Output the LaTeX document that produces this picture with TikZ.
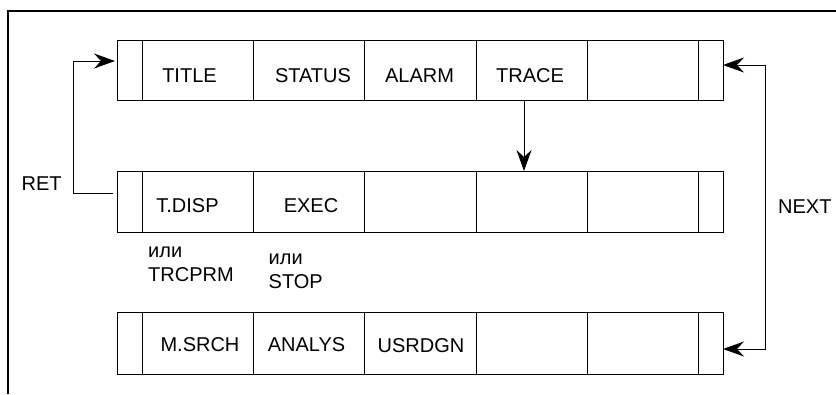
\documentclass[tikz,border=0pt]{standalone}
\usepackage{fontspec}
\setmainfont{Liberation Sans}
\usetikzlibrary{arrows.meta}
\begin{document}
\begin{tikzpicture}[x=1pt,y=-1pt,
  rowbox/.style={draw,line width=1pt,minimum width=606pt,minimum height=60pt,inner sep=0pt,outer sep=0pt},
  cellline/.style={line width=1pt},
  lbl/.style={anchor=base,inner sep=0pt,font=\fontsize{20}{24}\selectfont},
  lbll/.style={anchor=base west,inner sep=0pt,font=\fontsize{20}{24}\selectfont},
  arr/.style={line width=1pt,-{Stealth[length=21pt,width=15pt,inset=7pt]}},
  frameline/.style={line width=2.5pt}]
\useasboundingbox (0,0) rectangle (836,394);
% frame
\draw[frameline] (8,394) -- (8,11) -- (836,11);
% rows
\node[rowbox] (r1) at (420,70) {};
\node[rowbox,minimum height=61pt] (r2) at (420,201.5) {};
\node[rowbox,minimum height=62pt] (r3) at (420,343) {};
\foreach \r in {r1,r2,r3}{
  \foreach \x in {142,253,364,476,587,698}{
    \draw[cellline] (\r.north -| \x,0) -- (\r.south -| \x,0);
  }
}
% row 1 labels
\node[lbl] (title) at (189.5,82) {TITLE};
\node[lbl] (status) at (313,82) {STATUS};
\node[lbl] (alarm) at (419.5,82) {ALARM};
\node[lbl] (trace) at (530,82) {TRACE};
% row 2 labels
\node[lbl] (tdisp) at (187.5,212) {T.DISP};
\node[lbl] (exec) at (311,212) {EXEC};
\node[lbll] (ili1) at (148,257) {или};
\node[lbll] (trcprm) at (148,281) {TRCPRM};
\node[lbll] (ili2) at (268.5,264) {или};
\node[lbll] (stop) at (268.5,288) {STOP};
% row 3 labels
\node[lbl] (msrch) at (200,351) {M.SRCH};
\node[lbl] (analys) at (306.5,351) {ANALYS};
\node[lbl] (usrdgn) at (421,352) {USRDGN};
% side labels
\node[lbll] (ret) at (21.5,190.5) {RET};
\node[lbll] (next) at (778,213) {NEXT};
% connectors
\coordinate (retS) at (113,193);
\coordinate (retC) at (73,193);
\coordinate (retT) at (73,61);
\draw[arr,shorten >=2pt] (retS) -- (retC) -- (retT) -- (r1.west |- retT);
\coordinate (nT) at (765,65);
\coordinate (nB) at (765,349);
\draw[line width=1pt,{Stealth[length=21pt,width=15pt,inset=7pt]}-{Stealth[length=21pt,width=15pt,inset=7pt]}] (r1.east |- nT) -- (nT) -- (nB) -- (r3.east |- nB);
\draw[arr] (r1.south -| 524,0) -- (r2.north -| 524,0);
\end{tikzpicture}
\end{document}
